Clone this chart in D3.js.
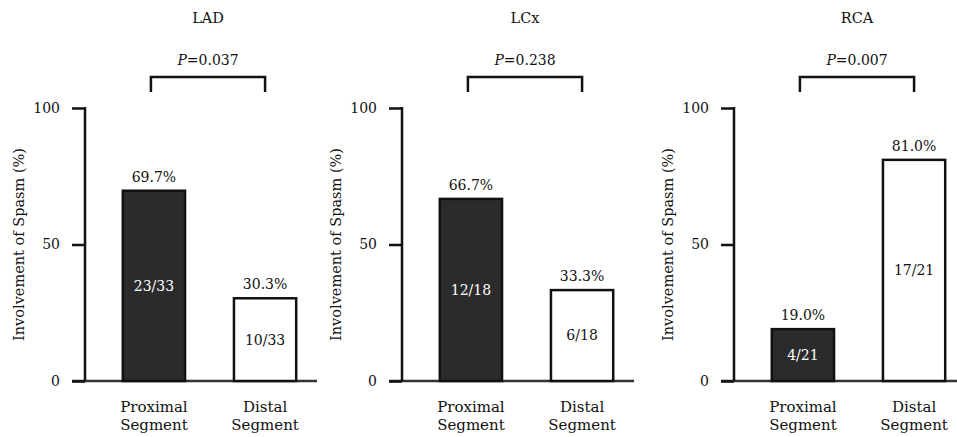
<!DOCTYPE html>
<html>
<head>
<meta charset="utf-8">
<script src="https://cdn.jsdelivr.net/npm/d3@7"></script>
<style>
  body { margin: 0; background: #fff; }
  text { font-family: "DejaVu Serif", serif; fill: #111; }
</style>
</head>
<body>
<div id="container"></div>
<script>
// data
var arteries = ["LAD", "LCx", "RCA"];
var segments = ["Proximal", "Distal"];
var proximalPct = [69.7, 66.7, 19.0];
var distalPct = [30.3, 33.3, 81.0];
var proximalCounts = ["23/33", "12/18", "4/21"];
var distalCounts = ["10/33", "6/18", "17/21"];
var pValues = ["0.037", "0.238", "0.007"];
var yTicks = [0, 50, 100];

var w = 957, h = 437;
var svg = d3.select("#container").append("svg")
    .attr("width", w).attr("height", h);

// x position of each panel's y axis
var axisX = [85, 402, 734];

var y = d3.scaleLinear().domain([0, 100]).range([381, 108]);

var x = d3.scaleBand().domain(segments)
    .range([0, 249])
    .paddingInner(0.44)
    .paddingOuter(0.34);

arteries.forEach(function(name, i) {
  var g = svg.append("g").attr("transform", "translate(" + axisX[i] + ",0)");
  var vals = [proximalPct[i], distalPct[i]];
  var counts = [proximalCounts[i], distalCounts[i]];

  // title
  g.append("text")
    .attr("x", 123).attr("y", 23)
    .attr("text-anchor", "middle")
    .style("font-size", "14.5px")
    .text(name);

  // baseline (extends left past axis)
  g.append("line")
    .attr("x1", -13).attr("x2", 232)
    .attr("y1", y(0)).attr("y2", y(0))
    .attr("stroke", "#333").attr("stroke-width", 2.5);

  // y axis
  var ax = g.append("g")
    .call(d3.axisLeft(y).tickValues(yTicks).tickSize(13).tickPadding(12));
  ax.select(".domain").remove();
  ax.selectAll(".tick line").attr("stroke", "#111").attr("stroke-width", 2.5);
  ax.selectAll(".tick text")
    .style("font-family", "DejaVu Serif, serif")
    .style("font-size", "14px").attr("fill", "#111");
  g.append("line")
    .attr("x1", 0).attr("x2", 0)
    .attr("y1", y(100) - 1).attr("y2", y(0))
    .attr("stroke", "#111").attr("stroke-width", 2.5);

  // y label
  g.append("text")
    .attr("transform", "translate(-66," + ((y(0) + y(100)) / 2) + ") rotate(-90)")
    .attr("text-anchor", "middle")
    .attr("dy", "0.35em")
    .style("font-size", "14.5px")
    .text("Involvement of Spasm (%)");

  // bars
  g.selectAll("rect.bar")
    .data(vals)
    .enter().append("rect")
    .attr("class", "bar")
    .attr("x", function(d, j) { return x(segments[j]); })
    .attr("width", x.bandwidth())
    .attr("y", function(d) { return y(d); })
    .attr("height", function(d) { return y(0) - y(d); })
    .attr("fill", function(d, j) { return j === 0 ? "#2b2b2b" : "#fff"; })
    .attr("stroke", "#111")
    .attr("stroke-width", 2.5);

  // percent above bars
  g.selectAll("text.pct")
    .data(vals)
    .enter().append("text")
    .attr("class", "pct")
    .attr("x", function(d, j) { return x(segments[j]) + x.bandwidth() / 2; })
    .attr("y", function(d) { return y(d) - 9; })
    .attr("text-anchor", "middle")
    .style("font-size", "14px")
    .text(function(d) { return d.toFixed(1) + "%"; });

  // counts inside bars
  g.selectAll("text.cnt")
    .data(vals)
    .enter().append("text")
    .attr("class", "cnt")
    .attr("x", function(d, j) { return x(segments[j]) + x.bandwidth() / 2; })
    .attr("y", function(d) { return (y(d) + y(0)) / 2; })
    .attr("dy", "0.35em")
    .attr("text-anchor", "middle")
    .style("font-size", "14px")
    .style("fill", function(d, j) { return j === 0 ? "#fff" : "#111"; })
    .text(function(d, j) { return counts[j]; });

  // category labels
  segments.forEach(function(s) {
    var t = g.append("text")
      .attr("x", x(s) + x.bandwidth() / 2)
      .attr("y", 412)
      .attr("text-anchor", "middle")
      .style("font-size", "15px");
    t.append("tspan").attr("x", x(s) + x.bandwidth() / 2).text(s);
    t.append("tspan").attr("x", x(s) + x.bandwidth() / 2).attr("dy", 18).text("Segment");
  });

  // significance bracket
  var bx1 = x(segments[0]) + x.bandwidth() / 2 - 3;
  var bx2 = x(segments[1]) + x.bandwidth() / 2;
  g.append("path")
    .attr("d", "M" + bx1 + ",92V77H" + bx2 + "V92")
    .attr("fill", "none")
    .attr("stroke", "#111")
    .attr("stroke-width", 2.5);

  var pt = g.append("text")
    .attr("x", (bx1 + bx2) / 2).attr("y", 65)
    .attr("text-anchor", "middle")
    .style("font-size", "14px");
  pt.append("tspan").style("font-style", "italic").text("P");
  pt.append("tspan").text("=" + pValues[i]);
});
</script>
</body>
</html>
